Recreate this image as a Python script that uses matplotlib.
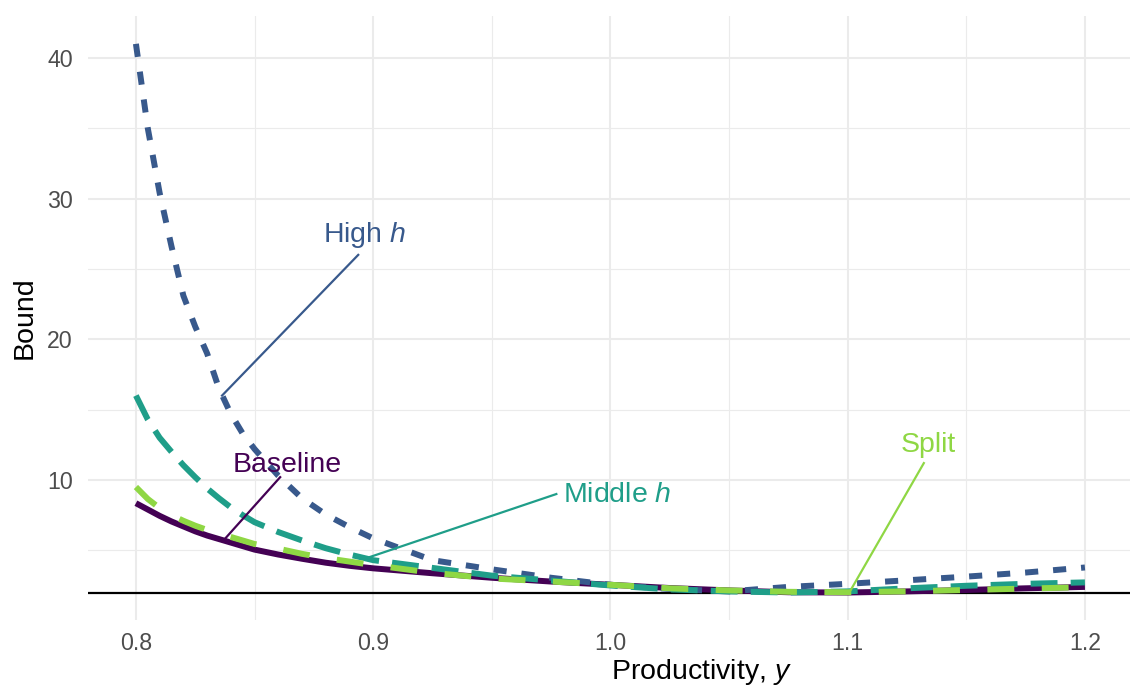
"""
plot.py - bound vs productivity for four calibrations (ggplot minimal look)
"""
import matplotlib
matplotlib.use("Agg")
import matplotlib.pyplot as plt

plt.rcParams['font.family'] = ['Liberation Sans', 'DejaVu Sans']
plt.rcParams['mathtext.fontset'] = 'custom'
plt.rcParams['mathtext.rm'] = 'Liberation Sans'
plt.rcParams['mathtext.it'] = 'Liberation Sans:italic'

# productivity grid
y_prod = [0.800, 0.805, 0.810, 0.815, 0.820, 0.825, 0.830, 0.835, 0.840, 0.845,
          0.850, 0.860, 0.870, 0.880, 0.890, 0.900, 0.925, 0.950, 0.975, 1.000,
          1.025, 1.050, 1.075, 1.100, 1.125, 1.150, 1.175, 1.200]

baseline = [8.35, 7.90, 7.45, 7.05, 6.70, 6.35, 6.05, 5.80, 5.55, 5.30,
            5.05, 4.70, 4.40, 4.12, 3.90, 3.72, 3.37, 3.05, 2.78, 2.55,
            2.32, 2.15, 2.02, 2.00, 2.08, 2.18, 2.30, 2.40]

high_h = [41.0, 35.0, 30.4, 26.6, 23.1, 20.9, 19.0, 16.5, 14.7, 13.3,
          12.2, 10.3, 8.70, 7.55, 6.65, 5.85, 4.30, 3.65, 3.05, 2.55,
          2.25, 2.08, 2.40, 2.62, 2.87, 3.13, 3.42, 3.78]

middle_h = [16.0, 14.3, 13.0, 12.0, 11.05, 10.2, 9.40, 8.70, 8.05, 7.50,
            7.00, 6.30, 5.70, 5.15, 4.70, 4.30, 3.75, 3.20, 2.85, 2.50,
            2.22, 2.08, 2.00, 2.08, 2.30, 2.48, 2.62, 2.72]

split = [9.50, 8.65, 8.00, 7.50, 7.10, 6.75, 6.45, 6.20, 5.95, 5.70,
         5.45, 5.12, 4.75, 4.45, 4.20, 3.95, 3.40, 3.00, 2.78, 2.55,
         2.30, 2.15, 2.05, 2.02, 2.08, 2.18, 2.28, 2.38]

series_names = ['Baseline', 'High $h$', 'Middle $h$', 'Split']
series_values = [baseline, high_h, middle_h, split]
colors = ['#440154', '#38598C', '#1F9E89', '#8FD744']
dash_styles = ['-', (0, (2.2, 2.5)), (0, (4.5, 2.2)), (0, (4.5, 4.6))]

# label text position and pointer segment (text end -> curve end)
label_pos = [(0.8636, 11.1), (0.8965, 27.4), (1.0027, 8.9), (1.1338, 12.5)]
pointer_from = [(0.8608, 10.2), (0.8937, 26.0), (0.9772, 9.0), (1.1321, 11.2)]
pointer_to = [(0.8371, 5.74), (0.8363, 16.0), (0.8987, 4.53), (1.1013, 2.18)]

hline_level = 2

fig = plt.figure(figsize=(11.3, 6.92), dpi=100)
ax = fig.add_axes([88 / 1130, 1 - 620 / 692, 1042 / 1130, 604 / 692])

ax.axhline(hline_level, color='black', lw=1.6, zorder=2)

for vals, col, ls in zip(series_values, colors, dash_styles):
    ax.plot(y_prod, vals, color=col, linestyle=ls, lw=4.3,
            dash_capstyle='butt', solid_capstyle='butt', zorder=3)

for name, col, pos, p0, p1 in zip(series_names, colors, label_pos,
                                  pointer_from, pointer_to):
    ax.plot([p0[0], p1[0]], [p0[1], p1[1]], color=col, lw=1.6, zorder=4)
    ax.text(pos[0], pos[1], name, color=col, fontsize=20.5,
            ha='center', va='center', zorder=5)

ax.set_xlim(0.7798, 1.2190)
ax.set_ylim(0.047, 42.98)
ax.set_xticks([0.8, 0.9, 1.0, 1.1, 1.2])
ax.set_xticklabels(['0.8', '0.9', '1.0', '1.1', '1.2'])
ax.set_yticks([10, 20, 30, 40])
ax.set_xticks([0.85, 0.95, 1.05, 1.15], minor=True)
ax.set_yticks([5, 15, 25, 35], minor=True)

ax.grid(True, which='major', color='#EBEBEB', lw=1.5, zorder=0)
ax.grid(True, which='minor', color='#EBEBEB', lw=0.8, zorder=0)
ax.set_axisbelow(True)
for s in ax.spines.values():
    s.set_visible(False)
ax.tick_params(which='both', length=0, labelsize=16.7, labelcolor='#4D4D4D')
ax.tick_params(axis='x', pad=9)
ax.tick_params(axis='y', pad=11)

ax.set_xlabel('Productivity, $y$', fontsize=20.5, va='center')
ax.xaxis.set_label_coords(613 / 1042, -(672 - 620) / 604)
ax.set_ylabel('Bound', fontsize=20.5, va='center')
ax.yaxis.set_label_coords(-(88 - 25) / 1042, (620 - 318) / 604)

fig.savefig('out.png', dpi=100)
